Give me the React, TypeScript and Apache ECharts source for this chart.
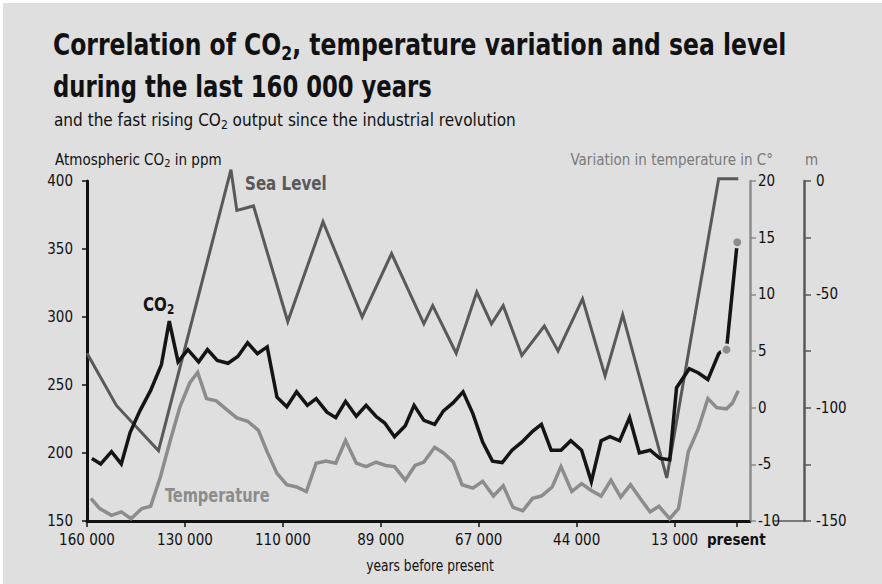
import React, { useEffect, useRef } from 'react';
import * as echarts from 'echarts';

const FONT = '"DejaVu Sans Condensed", "DejaVu Sans", sans-serif';

// x axis is drawn in "tick units": 160 000 = 0, 130 000 = 1, ... 13 000 = 6, present ≈ 6.63
const xTickPositions = [0, 1, 2, 3, 4, 5, 6, 6.63];
const xTickLabels = ['160 000', '130 000', '110 000', '89 000', '67 000', '44 000', '13 000', 'present'];

const co2Points: number[][] = [
  [0.05, 196], [0.14, 192], [0.25, 201], [0.35, 192], [0.44, 215], [0.54, 231], [0.65, 246], [0.76, 265],
  [0.84, 297], [0.93, 267], [1.03, 276], [1.14, 267], [1.23, 276], [1.33, 268], [1.44, 266], [1.54, 271],
  [1.64, 281], [1.74, 273], [1.84, 278], [1.94, 241], [2.04, 234], [2.14, 245], [2.25, 235], [2.34, 240],
  [2.45, 230], [2.54, 226], [2.64, 238], [2.75, 227], [2.85, 235], [2.95, 227], [3.04, 222], [3.14, 212],
  [3.25, 220], [3.34, 235], [3.44, 224], [3.55, 221], [3.64, 231], [3.74, 237], [3.84, 245], [3.94, 229],
  [4.04, 208], [4.14, 194], [4.24, 193], [4.34, 202], [4.44, 208], [4.55, 216], [4.64, 221], [4.74, 202],
  [4.84, 202], [4.94, 209], [5.05, 202], [5.15, 179], [5.25, 209], [5.34, 212], [5.44, 209], [5.54, 226],
  [5.64, 200], [5.75, 202], [5.85, 196], [5.95, 195], [6.02, 248], [6.15, 262], [6.24, 259], [6.34, 254],
  [6.45, 273], [6.48, 275],
];

const co2Modern: number[][] = [[6.53, 276], [6.64, 355]];

const tempPoints: number[][] = [
  [0.04, -8.0], [0.13, -8.9], [0.25, -9.5], [0.35, -9.2], [0.45, -9.8], [0.56, -8.9], [0.65, -8.7], [0.75, -6.1],
  [0.85, -2.9], [0.95, 0.1], [1.05, 2.2], [1.13, 3.1], [1.22, 0.8], [1.32, 0.6], [1.43, -0.2], [1.53, -0.9],
  [1.64, -1.2], [1.75, -2.0], [1.84, -3.9], [1.94, -5.8], [2.04, -6.8], [2.14, -7.0], [2.24, -7.4], [2.34, -4.9],
  [2.44, -4.7], [2.54, -4.9], [2.64, -2.9], [2.75, -4.9], [2.85, -5.2], [2.95, -4.8], [3.05, -5.1], [3.14, -5.2],
  [3.25, -6.4], [3.35, -5.1], [3.44, -4.8], [3.55, -3.5], [3.64, -4.0], [3.74, -4.8], [3.83, -6.8], [3.94, -7.1],
  [4.04, -6.5], [4.15, -7.8], [4.25, -6.9], [4.35, -8.8], [4.45, -9.1], [4.55, -8.0], [4.64, -7.8], [4.75, -7.0],
  [4.84, -5.2], [4.95, -7.4], [5.05, -6.7], [5.15, -7.3], [5.25, -7.8], [5.35, -6.4], [5.45, -7.9], [5.55, -6.8],
  [5.64, -7.9], [5.75, -9.2], [5.84, -8.7], [5.95, -9.8], [6.04, -8.9], [6.14, -3.9], [6.24, -1.9], [6.34, 0.8],
  [6.43, 0.0], [6.53, -0.1], [6.59, 0.4], [6.65, 1.5],
];

const seaPoints: number[][] = [
  [0, -76], [0.30, -99], [0.73, -119], [1.47, 5], [1.53, -13], [1.70, -11], [2.05, -62], [2.41, -18],
  [2.81, -60], [3.11, -32], [3.44, -63], [3.53, -55], [3.77, -76], [3.98, -49], [4.13, -63], [4.25, -55],
  [4.44, -77], [4.67, -64], [4.81, -75], [5.06, -52], [5.29, -86], [5.47, -59], [5.92, -131], [6.45, 1],
  [6.65, 1],
];

const BG = '#dfdfdf';
const CO2_COLOR = '#141414';
const SEA_COLOR = '#595959';
const TEMP_COLOR = '#8c8c8c';

export default function App() {
  const ref = useRef<HTMLDivElement>(null);

  useEffect(() => {
    document.body.style.margin = '0';
    const chart = echarts.init(ref.current!, null, { renderer: 'svg' });

    const labelStyle = { color: '#111', fontSize: 15, fontFamily: FONT };

    const option: any = {
      animation: false,
      backgroundColor: BG,
      grid: { left: 87, right: 132, top: 181, bottom: 63, containLabel: false },
      xAxis: {
        type: 'value',
        min: 0,
        max: 6.77,
        splitLine: { show: false },
        axisLine: { onZero: false, lineStyle: { color: '#111', width: 3 } },
        axisTick: { customValues: xTickPositions, length: 6, lineStyle: { color: '#111', width: 1.5 } },
        axisLabel: {
          customValues: xTickPositions,
          margin: 11,
          ...labelStyle,
          formatter: (v: number) => {
            const i = xTickPositions.findIndex((p) => Math.abs(p - v) < 1e-6);
            const s = i >= 0 ? xTickLabels[i] : '';
            return s === 'present' ? '{b|present}' : s;
          },
          rich: { b: { fontWeight: 'bold', fontSize: 15, fontFamily: FONT, color: '#111' } },
        },
      },
      yAxis: [
        {
          type: 'value',
          position: 'left',
          min: 150,
          max: 400,
          interval: 50,
          splitLine: { show: false },
          axisLine: { show: true, onZero: false, lineStyle: { color: '#111', width: 3 } },
          axisTick: { show: true, length: 5, lineStyle: { color: '#111', width: 1.5 } },
          axisLabel: { margin: 14, ...labelStyle },
        },
        {
          type: 'value',
          position: 'right',
          offset: 0,
          min: -10,
          max: 20,
          interval: 5,
          splitLine: { show: false },
          axisLine: { show: true, onZero: false, lineStyle: { color: TEMP_COLOR, width: 2.5 } },
          axisTick: { show: true, length: 6, lineStyle: { color: TEMP_COLOR, width: 1.5 } },
          axisLabel: { margin: 8, ...labelStyle },
        },
        {
          type: 'value',
          position: 'right',
          offset: 54,
          min: -150,
          max: 0,
          interval: 25,
          splitLine: { show: false },
          axisLine: { show: true, onZero: false, lineStyle: { color: SEA_COLOR, width: 2.5 } },
          axisTick: { show: true, length: 7, lineStyle: { color: SEA_COLOR, width: 1.5 } },
          axisLabel: {
            margin: 12,
            ...labelStyle,
            formatter: (v: number) => (v % 50 === 0 ? String(v) : ''),
          },
        },
      ],
      series: [
        {
          name: 'Temperature',
          type: 'line',
          yAxisIndex: 1,
          data: tempPoints,
          symbol: 'none',
          lineStyle: { color: TEMP_COLOR, width: 3.5, join: 'miter' },
          z: 2,
        },
        {
          name: 'Sea Level',
          type: 'line',
          yAxisIndex: 2,
          data: seaPoints,
          symbol: 'none',
          clip: false,
          lineStyle: { color: SEA_COLOR, width: 3, join: 'miter' },
          z: 3,
        },
        {
          name: 'CO2',
          type: 'line',
          yAxisIndex: 0,
          data: co2Points,
          symbol: 'none',
          lineStyle: { color: CO2_COLOR, width: 3.5, join: 'miter' },
          z: 4,
        },
        {
          name: 'CO2 industrial',
          type: 'line',
          yAxisIndex: 0,
          data: co2Modern,
          symbol: 'none',
          lineStyle: { color: CO2_COLOR, width: 3.5 },
          z: 4,
        },
        {
          name: 'CO2 dots',
          type: 'scatter',
          yAxisIndex: 0,
          data: co2Modern,
          symbolSize: 10,
          itemStyle: { color: TEMP_COLOR, borderColor: BG, borderWidth: 2, opacity: 1 },
          z: 5,
        },
      ],
      graphic: [
        { type: 'rect', shape: { x: 0, y: 0, width: 882, height: 3 }, style: { fill: '#ffffff' }, silent: true },
        { type: 'rect', shape: { x: 0, y: 0, width: 3, height: 584 }, style: { fill: '#ffffff' }, silent: true },
        {
          type: 'text',
          x: 53,
          y: 27,
          scaleX: 0.87,
          style: {
            text: 'Correlation of CO{s|2}, temperature variation and sea level',
            fontSize: 30,
            fontWeight: 'bold',
            fontFamily: FONT,
            fill: '#111',
            lineHeight: 36,
            verticalAlign: 'top',
            rich: { s: { fontSize: 20, fontWeight: 'bold', fontFamily: FONT, fill: '#111', lineHeight: 20, verticalAlign: 'bottom' } },
          },
        },
        {
          type: 'text',
          x: 53,
          y: 69,
          scaleX: 0.843,
          style: {
            text: 'during the last 160 000 years',
            fontSize: 30,
            fontWeight: 'bold',
            fontFamily: FONT,
            fill: '#111',
            lineHeight: 36,
            verticalAlign: 'top',
          },
        },
        {
          type: 'text',
          x: 54,
          y: 109,
          style: {
            text: 'and the fast rising CO{s|2} output since the industrial revolution',
            fontSize: 17,
            fontFamily: FONT,
            fill: '#111',
            lineHeight: 22,
            verticalAlign: 'top',
            rich: { s: { fontSize: 12, fontFamily: FONT, fill: '#111', lineHeight: 12, verticalAlign: 'bottom' } },
          },
        },
        {
          type: 'text',
          x: 55,
          y: 151,
          style: {
            text: 'Atmospheric CO{s|2} in ppm',
            fontSize: 15,
            fontFamily: FONT,
            fill: '#111',
            lineHeight: 18,
            verticalAlign: 'top',
            rich: { s: { fontSize: 11, fontFamily: FONT, fill: '#111', lineHeight: 11, verticalAlign: 'bottom' } },
          },
        },
        {
          type: 'text',
          x: 773,
          y: 151,
          style: {
            text: 'Variation in temperature in C°',
            fontSize: 15,
            fontFamily: FONT,
            fill: '#7a7a7a',
            lineHeight: 18,
            align: 'right',
            verticalAlign: 'top',
          },
        },
        {
          type: 'text',
          x: 805,
          y: 151,
          style: { text: 'm', fontSize: 15, fontFamily: FONT, fill: '#7a7a7a', lineHeight: 18, verticalAlign: 'top' },
        },
        {
          type: 'text',
          x: 430,
          y: 557,
          scaleX: 0.91,
          style: {
            text: 'years before present',
            fontSize: 15,
            fontFamily: FONT,
            fill: '#111',
            lineHeight: 18,
            align: 'center',
            verticalAlign: 'top',
          },
        },
        {
          type: 'text',
          x: 143,
          y: 292,
          scaleX: 0.84,
          style: {
            text: 'CO{s|2}',
            fontSize: 20,
            fontWeight: 'bold',
            fontFamily: FONT,
            fill: CO2_COLOR,
            lineHeight: 24,
            verticalAlign: 'top',
            rich: { s: { fontSize: 14, fontWeight: 'bold', fontFamily: FONT, fill: CO2_COLOR, lineHeight: 14, verticalAlign: 'bottom' } },
          },
        },
        {
          type: 'text',
          x: 245,
          y: 171,
          scaleX: 0.84,
          style: { text: 'Sea Level', fontSize: 20, fontWeight: 'bold', fontFamily: FONT, fill: SEA_COLOR, lineHeight: 24, verticalAlign: 'top' },
        },
        {
          type: 'text',
          x: 165,
          y: 483,
          scaleX: 0.81,
          style: { text: 'Temperature', fontSize: 20, fontWeight: 'bold', fontFamily: FONT, fill: TEMP_COLOR, lineHeight: 24, verticalAlign: 'top' },
        },
        {
          type: 'line',
          shape: { x1: 773, y1: 521, x2: 804, y2: 521 },
          style: { stroke: SEA_COLOR, lineWidth: 1.5 },
          silent: true,
        },
      ],
    };

    chart.setOption(option);
    return () => chart.dispose();
  }, []);

  return <div ref={ref} style={{ width: 882, height: 584 }} />;
}
